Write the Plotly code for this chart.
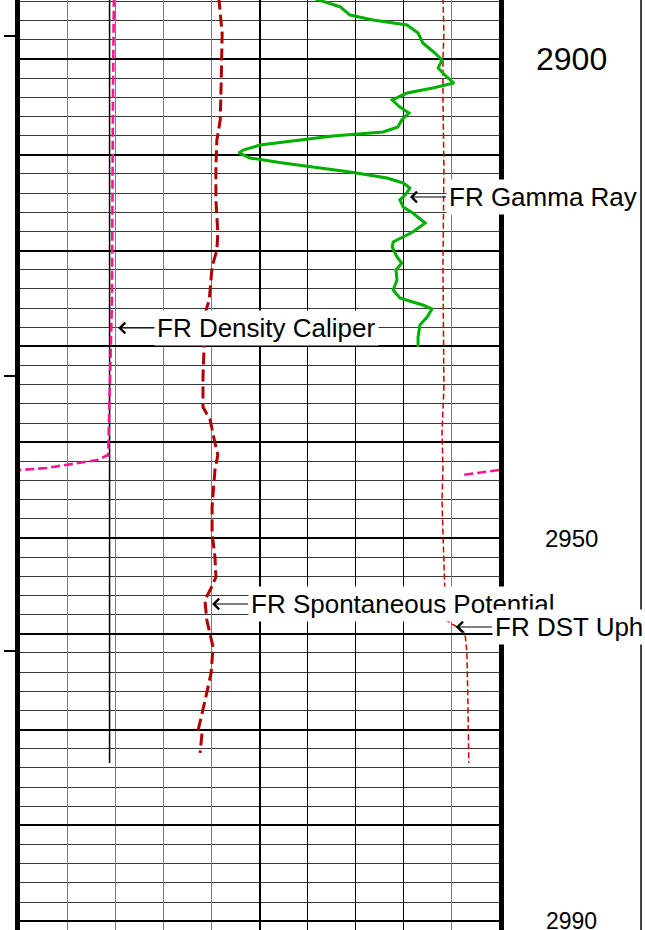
import plotly.graph_objects as go

# ---- depth window (m) -------------------------------------------------------
depth_top = 2893.84
depth_bottom = 2990.92

# Curve values are in track units: 0 = left edge of the track, 100 = right edge.

# FR Gamma Ray
gr_depth = [2893.6, 2894.54, 2895.41, 2895.93, 2896.45, 2897.29, 2898.33, 2899.37,
            2900.10, 2900.94, 2901.88, 2902.51, 2903.03, 2903.55, 2904.28, 2905.01,
            2905.64, 2906.37, 2907.10, 2907.62, 2908.04, 2908.46, 2908.98, 2909.50,
            2909.81, 2910.33, 2910.86, 2911.80, 2912.42, 2912.94, 2913.47, 2914.20,
            2914.70, 2915.45, 2916.08, 2917.12, 2918.06, 2919.10, 2919.62, 2920.67,
            2921.29, 2922.03, 2923.07, 2924.11, 2924.95, 2925.37, 2925.68, 2926.10,
            2926.93, 2927.77, 2929.02, 2930.06]
gr_value = [60.9, 66.8, 68.9, 73.7, 80.8, 83.1, 84.1, 86.6,
            88.1, 87.3, 89.1, 90.6, 86.2, 80.8, 77.7, 79.3,
            81.2, 79.7, 78.9, 75.8, 65.3, 58.5, 50.1, 46.6,
            45.7, 48.0, 54.9, 68.9, 76.6, 80.0, 81.4, 80.4,
            79.3, 80.0, 82.0, 84.6, 82.0, 77.9, 77.7, 78.7,
            79.7, 78.5, 78.7, 77.9, 79.3, 82.0, 84.1, 86.0,
            85.0, 83.5, 83.1, 83.1]

# FR Spontaneous Potential
sp_depth = [2893.6, 2897.29, 2902.51, 2906.37, 2908.46, 2911.27, 2914.72, 2918.16,
            2919.94, 2921.71, 2925.16, 2926.93, 2930.38, 2933.19, 2936.33, 2937.68,
            2940.08, 2941.34, 2942.90, 2946.76, 2949.48, 2951.98, 2954.07, 2955.43,
            2956.47, 2958.56, 2961.38, 2964.09, 2966.60, 2968.27, 2970.04, 2970.35,
            2972.44]
sp_value = [41.5, 42.2, 42.0, 41.8, 41.1, 40.9, 40.9, 41.3,
            41.1, 40.1, 39.5, 38.4, 38.4, 38.2, 38.2, 39.7,
            40.7, 41.3, 40.7, 40.1, 40.1, 40.7, 40.9, 39.7,
            38.6, 39.0, 40.3, 39.9, 38.8, 38.0, 37.2, 38.0,
            37.6]

# FR DST Uph
dst_depth = [2893.6, 2897.29, 2900.10, 2904.28, 2911.27, 2921.71, 2934.24, 2939.04,
             2942.59, 2946.03, 2949.48, 2953.03, 2956.47, 2958.56, 2959.29, 2959.92,
             2962.00, 2965.14, 2966.91, 2973.49]
dst_value = [88.3, 88.5, 88.3, 88.3, 88.5, 88.3, 88.5, 88.1,
             88.3, 88.1, 88.3, 88.5, 88.7, 88.9, 91.2, 92.9,
             93.3, 93.5, 93.5, 93.7]

# FR Density Caliper (values below the left edge wrap back in from the right)
cal_depth = [2893.6, 2904.28, 2925.16, 2933.51, 2935.59, 2941.34, 2941.86, 2942.28,
             2942.69, 2942.90, 2943.45]
cal_value = [19.6, 19.4, 19.2, 18.8, 18.6, 18.4, 16.1, 11.1,
             5.6, 0.1, -8.1]

# reference line (bit size)
bit_depth = [2893.6, 2973.49]
bit_value = [18.7, 18.7]

# depth markers on the left edge of the track
marker_depths = [2897.6, 2933.1, 2961.8]

# curve labels: (text, anchor depth, anchor value)
labels = [
    ("FR Gamma Ray", 2914.41, 81.4),
    ("FR Density Caliper", 2928.08, 20.5),
    ("FR Spontaneous Potential", 2956.89, 40.1),
    ("FR DST Uph", 2959.29, 91.0),
]

# depth numbers in the depth column: (depth, font size)
depth_numbers = [(2900, 32), (2950, 24), (2990, 23)]


def wrap_track(depths, values, lo=0.0, hi=100.0):
    """Split a curve where it leaves the track on the left and re-enter from the right."""
    span = hi - lo
    xs, ys = [], []
    prev = None
    for d, v in zip(depths, values):
        if prev is not None:
            pd_, pv = prev
            if pv >= lo > v:
                t = (lo - pv) / (v - pv)
                dc = pd_ + t * (d - pd_)
                xs += [lo, None, hi]
                ys += [dc, None, dc]
        xs.append(v + span if v < lo else v)
        ys.append(d)
        prev = (d, v)
    return xs, ys


cal_x, cal_y = wrap_track(cal_depth, cal_value)

fig = go.Figure()

fig.add_trace(go.Scatter(x=bit_value, y=bit_depth, mode="lines",
                         line=dict(color="black", width=1.5),
                         showlegend=False, hoverinfo="skip"))
fig.add_trace(go.Scatter(x=cal_x, y=cal_y, mode="lines", connectgaps=False,
                         line=dict(color="#ff1493", width=2.6, dash="9px,4px"),
                         showlegend=False, name="FR Density Caliper"))
fig.add_trace(go.Scatter(x=sp_value, y=sp_depth, mode="lines",
                         line=dict(color="#b00000", width=3, dash="12px,5px"),
                         showlegend=False, name="FR Spontaneous Potential"))
fig.add_trace(go.Scatter(x=dst_value, y=dst_depth, mode="lines",
                         line=dict(color="#cc0000", width=1.5, dash="6px,3px"),
                         showlegend=False, name="FR DST Uph"))
fig.add_trace(go.Scatter(x=gr_value, y=gr_depth, mode="lines",
                         line=dict(color="#00b000", width=3),
                         showlegend=False, name="FR Gamma Ray"))

# companion axes that carry the darker grid lines and the edge depth markers
fig.add_trace(go.Scatter(x=[], y=[], xaxis="x2", yaxis="y", showlegend=False, hoverinfo="skip"))
fig.add_trace(go.Scatter(x=[], y=[], xaxis="x3", yaxis="y", showlegend=False, hoverinfo="skip"))
fig.add_trace(go.Scatter(x=[], y=[], xaxis="x", yaxis="y2", showlegend=False, hoverinfo="skip"))

common_x = dict(range=[0, 100], showticklabels=False, ticks="", zeroline=False,
                showline=False, fixedrange=True)

annotations = []
for text, d, v in labels:
    annotations.append(dict(
        x=v, y=d, xref="x", yref="y", text=text,
        showarrow=True, arrowhead=4, arrowsize=1.9, arrowwidth=1.1, arrowcolor="black",
        ax=36, ay=0, axref="pixel", ayref="pixel", standoff=0,
        xanchor="left", yanchor="middle", bgcolor="white", borderpad=2,
        font=dict(family="Liberation Sans, Arial, sans-serif", size=26, color="black"),
    ))
for d, size in depth_numbers:
    annotations.append(dict(
        x=1.1524, y=d, xref="paper", yref="y", text=str(d), showarrow=False,
        xanchor="center", yanchor="middle",
        font=dict(family="Liberation Sans, Arial, sans-serif", size=size, color="black"),
    ))

fig.update_layout(
    width=645, height=930, autosize=False,
    margin=dict(l=20, r=146, t=0, b=0, pad=0),
    paper_bgcolor="white", plot_bgcolor="white",
    showlegend=False,
    xaxis=dict(**common_x, showgrid=True, tickmode="array", tickvals=[10, 20, 30, 40, 90],
               gridcolor="#7c7c7c", gridwidth=1.2),
    xaxis2=dict(**common_x, overlaying="x", anchor="y", showgrid=True, tickmode="array",
                tickvals=[60, 70, 80], gridcolor="black", gridwidth=1.3),
    xaxis3=dict(**common_x, overlaying="x", anchor="y", showgrid=True, tickmode="array",
                tickvals=[50], gridcolor="black", gridwidth=2.2),
    yaxis=dict(range=[depth_bottom, depth_top], tickmode="linear", tick0=2900, dtick=10,
               showgrid=True, gridcolor="black", gridwidth=2.2,
               minor=dict(tick0=2900, dtick=2, showgrid=True, gridcolor="#3a3a3a", gridwidth=1),
               showline=True, linewidth=5, linecolor="black", mirror=True,
               showticklabels=False, ticks="", zeroline=False, fixedrange=True),
    yaxis2=dict(range=[depth_bottom, depth_top], overlaying="y", anchor="x", side="left",
                tickmode="array", tickvals=marker_depths, ticks="outside", ticklen=15,
                tickwidth=2, tickcolor="black", showgrid=False, showline=False,
                showticklabels=False, zeroline=False, fixedrange=True),
    annotations=annotations,
    shapes=[dict(type="line", xref="paper", yref="paper", x0=1.2965, x1=1.2965, y0=0, y1=1,
                 line=dict(color="black", width=1.5))],
)

fig.write_html("out.html")
